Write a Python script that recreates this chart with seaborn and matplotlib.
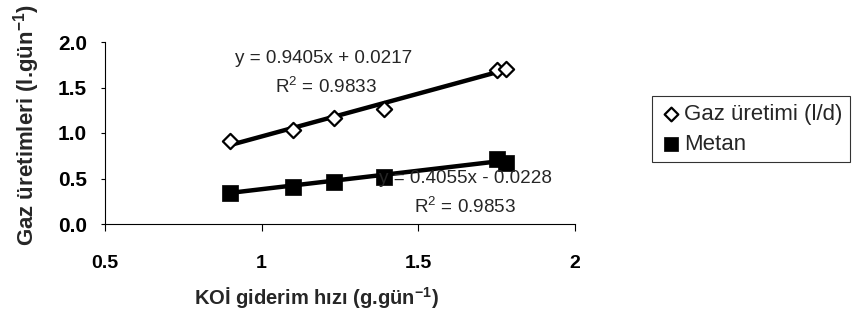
import numpy as np
import pandas as pd
import matplotlib
matplotlib.use("Agg")
import matplotlib.pyplot as plt
import seaborn as sns

# --- data ---
koi_rate = [0.90, 1.10, 1.23, 1.39, 1.75, 1.78]
gaz_uretimi = [0.915, 1.035, 1.16, 1.26, 1.69, 1.70]
metan = [0.345, 0.41, 0.46, 0.52, 0.71, 0.675]
gaz_fit = (0.9405, 0.0217)
metan_fit = (0.4055, -0.0228)
series_names = ["Gaz üretimi (l/d)", "Metan"]
x_ticks = [0.5, 1, 1.5, 2]
x_tick_labels = ["0.5", "1", "1.5", "2"]
y_ticks = [0.0, 0.5, 1.0, 1.5, 2.0]
y_tick_labels = ["0.0", "0.5", "1.0", "1.5", "2.0"]

sns.set_theme(style="ticks")
plt.rcParams["font.family"] = ["Liberation Sans", "DejaVu Sans"]
plt.rcParams["mathtext.fontset"] = "custom"
plt.rcParams["mathtext.rm"] = "Liberation Sans"
plt.rcParams["mathtext.bf"] = "Liberation Sans:bold"
plt.rcParams["mathtext.it"] = "Liberation Sans:italic"
plt.rcParams["axes.unicode_minus"] = False

fig = plt.figure(figsize=(8.58, 3.29), dpi=100)
ax = fig.add_axes([105 / 858, 1 - 224 / 329, 470 / 858, 182 / 329])

df = pd.DataFrame({
    "x": koi_rate * 2,
    "y": gaz_uretimi + metan,
    "series": [series_names[0]] * len(koi_rate) + [series_names[1]] * len(koi_rate),
})

# trend lines
xs = np.array([min(koi_rate), max(koi_rate)])
for (m, b) in (gaz_fit, metan_fit):
    sns.lineplot(x=xs, y=m * xs + b, ax=ax, color="black", linewidth=3.2, legend=False, zorder=2)

g = df[df.series == series_names[0]]
mt = df[df.series == series_names[1]]
sns.scatterplot(data=g, x="x", y="y", ax=ax, marker="D", s=60, facecolor="white",
                edgecolor="black", linewidth=1.6, label=series_names[0], zorder=3)
sns.scatterplot(data=mt, x="x", y="y", ax=ax, marker="s", s=125, color="black",
                edgecolor="black", linewidth=0.5, label=series_names[1], zorder=3)

ax.set_xlim(0.5, 2)
ax.set_ylim(0, 2)
ax.set_xticks(x_ticks)
ax.set_xticklabels(x_tick_labels)
ax.set_yticks(y_ticks)
ax.set_yticklabels(y_tick_labels)
for lab in ax.get_xticklabels():
    lab.set_fontweight("bold")
    lab.set_fontsize(14)
for lab in ax.get_yticklabels():
    lab.set_fontweight("bold")
    lab.set_fontsize(15)
ax.tick_params(axis="x", direction="out", length=5, width=0.8, pad=17, colors="black")
ax.tick_params(axis="y", direction="out", length=3, width=0.8, pad=10, colors="black")
sns.despine(ax=ax)
for s in ("left", "bottom"):
    ax.spines[s].set_color("black")
    ax.spines[s].set_linewidth(0.8)

ax.set_xlabel("KOİ giderim hızı (g.gün$^{\\mathbf{-1}}$)", fontsize=14.5, fontweight="bold")
ax.set_ylabel("Gaz üretimleri (l.gün$^{\\mathbf{-1}}$)", fontsize=16, fontweight="bold")
ax.xaxis.set_label_coords((316 - 105) / 470, (224 - 298) / 182)
ax.xaxis.label.set_va("center")
ax.yaxis.set_label_coords((27 - 105) / 470, (224 - 125) / 182)
ax.yaxis.label.set_va("center")

ax.text(1.199, 1.824, "y = 0.9405x + 0.0217", fontsize=13.6, ha="center", va="center")
ax.text(1.205, 1.505, "R$^2$ = 0.9833", fontsize=13.6, ha="center", va="center")
ax.text(1.649, 0.505, "y = 0.4055x - 0.0228", fontsize=13.6, ha="center", va="center")
ax.text(1.649, 0.187, "R$^2$ = 0.9853", fontsize=13.6, ha="center", va="center")

leg = ax.legend(loc="upper left", bbox_to_anchor=(652 / 858, 1 - 96 / 329),
                bbox_transform=fig.transFigure, fontsize=16, frameon=True, fancybox=False,
                handletextpad=0.1, handlelength=1.0, borderpad=0.35, labelspacing=0.4,
                borderaxespad=0, markerscale=0.9)
leg.get_frame().set_edgecolor("black")
leg.get_frame().set_linewidth(0.8)

fig.savefig("out.png", dpi=100)
